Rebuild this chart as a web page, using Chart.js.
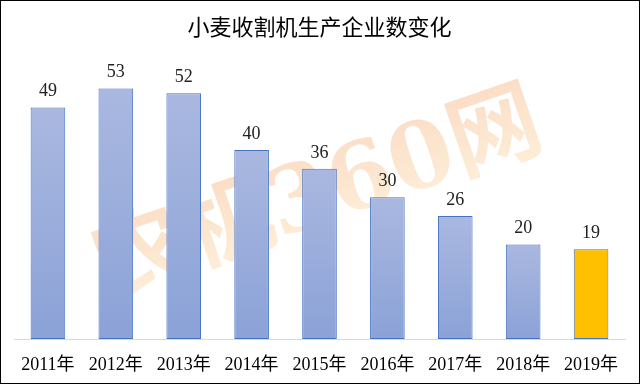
<!DOCTYPE html>
<html>
<head>
<meta charset="utf-8">
<script src="https://cdn.jsdelivr.net/npm/chart.js@4/dist/chart.umd.min.js"></script>
<style>
  html, body { margin: 0; padding: 0; background: #fff; }
  #wrap { width: 640px; height: 384px; box-sizing: border-box; border: 1px solid #000; background: #fff; }
  canvas { display: block; }
</style>
</head>
<body>
<div id="wrap"><canvas id="c" width="638" height="382"></canvas></div>
<script>
const categories = ['2011年', '2012年', '2013年', '2014年', '2015年', '2016年', '2017年', '2018年', '2019年'];
const companies = [49, 53, 52, 40, 36, 30, 26, 20, 19];
const titleText = '小麦收割机生产企业数变化';
const watermarkText = '农机360网';
const highlightIndex = 8;

const watermarkPlugin = {
  id: 'watermark',
  beforeDatasetsDraw(chart) {
    const ctx = chart.ctx;
    ctx.save();
    ctx.translate(318, 198);
    ctx.rotate(-19 * Math.PI / 180);
    ctx.globalAlpha = 0.25;
    ctx.font = 'bold 92px "DejaVu Serif", "Noto Sans CJK SC", serif';
    ctx.textAlign = 'center';
    ctx.textBaseline = 'middle';
    const g = ctx.createLinearGradient(0, -50, 0, 50);
    g.addColorStop(0, '#F07A20');
    g.addColorStop(1, '#FBC870');
    ctx.fillStyle = g;
    ctx.fillText(watermarkText, 0, 0);
    ctx.restore();
  }
};

const valueLabelPlugin = {
  id: 'valueLabels',
  afterDatasetsDraw(chart) {
    const ctx = chart.ctx;
    const meta = chart.getDatasetMeta(0);
    ctx.save();
    ctx.font = '18px "Liberation Serif", "Times New Roman", serif';
    ctx.fillStyle = '#222';
    ctx.textAlign = 'center';
    ctx.textBaseline = 'middle';
    meta.data.forEach((bar, i) => {
      ctx.fillText(String(companies[i]), bar.x, bar.y - 16);
    });
    ctx.restore();
  }
};

function barFill(context) {
  const i = context.dataIndex;
  if (i === highlightIndex) return '#FFC000';
  const chart = context.chart;
  if (!chart.chartArea || !chart.scales.y) return '#9AAEDD';
  const y = chart.scales.y;
  const top = y.getPixelForValue(companies[i]);
  const base = y.getPixelForValue(0);
  const g = chart.ctx.createLinearGradient(0, top, 0, base);
  g.addColorStop(0, '#AAB8E0');
  g.addColorStop(1, '#8BA2D7');
  return g;
}

new Chart(document.getElementById('c'), {
  type: 'bar',
  data: {
    labels: categories,
    datasets: [{
      data: companies,
      backgroundColor: barFill,
      borderColor: '#4472C4',
      borderWidth: 1,
      borderSkipped: false,
      barPercentage: 0.51,
      categoryPercentage: 1.0
    }]
  },
  options: {
    responsive: false,
    animation: false,
    events: [],
    layout: { padding: { left: 13, right: 14, top: 0, bottom: 11 } },
    plugins: {
      legend: { display: false },
      tooltip: { enabled: false },
      title: {
        display: true,
        text: titleText,
        color: '#000',
        font: { family: '"Noto Sans CJK SC", sans-serif', size: 22, weight: 'normal', lineHeight: 1.2 },
        padding: { top: 12, bottom: 16 }
      }
    },
    scales: {
      x: {
        grid: { display: true, color: 'rgba(0,0,0,0)', drawTicks: false },
        border: { display: true, color: '#D9D9D9', width: 1 },
        ticks: {
          color: '#000',
          padding: 15,
          font: { family: '"Liberation Serif", "Noto Sans CJK SC", serif', size: 18, lineHeight: 1.2 },
          maxRotation: 0,
          autoSkip: false
        },
        afterFit(scale) { scale.height = 33; }
      },
      y: {
        display: false,
        min: 0,
        max: 60
      }
    }
  },
  plugins: [watermarkPlugin, valueLabelPlugin]
});
</script>
</body>
</html>
